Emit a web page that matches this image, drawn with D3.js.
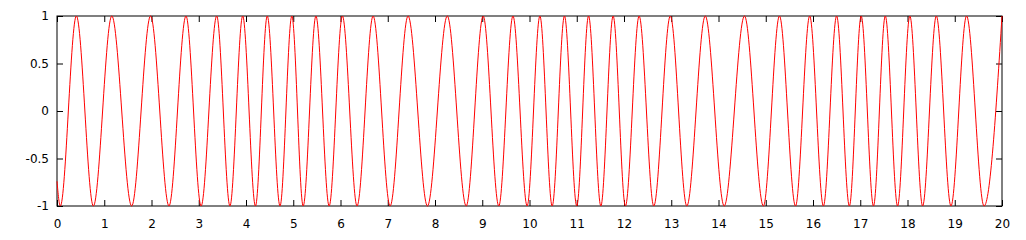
<!DOCTYPE html>
<html>
<head>
<meta charset="utf-8">
<script src="https://cdn.jsdelivr.net/npm/d3@7"></script>
<style>
  html, body { margin: 0; padding: 0; background: #fff; }
  #chart text { font-family: "DejaVu Sans", sans-serif; font-size: 12px; fill: #000; }
</style>
</head>
<body>
<div id="chart"></div>
<script>
// curve key points: start, every trough/peak, end
const curveX = [0, 0.07, 0.41, 0.77, 1.16, 1.58, 1.98, 2.37, 2.73, 3.05, 3.38, 3.66, 3.93, 4.20, 4.45,
	4.72, 4.97, 5.21, 5.48, 5.76, 6.04, 6.35, 6.69, 7.05, 7.43, 7.84, 8.26, 8.66, 9.02, 9.35,
	9.65, 9.95, 10.22, 10.48, 10.74, 11.00, 11.25, 11.51, 11.77, 12.03, 12.32, 12.63, 12.98, 13.33,
	13.72, 14.12, 14.55, 14.95, 15.29, 15.63, 15.93, 16.22, 16.50, 16.77, 17.02, 17.28, 17.53,
	17.79, 18.05, 18.32, 18.61, 18.92, 19.25, 19.62, 20]
const curveY = [-0.74, -1, 1, -1, 1, -1, 1, -1, 1, -1, 1, -1, 1, -1, 1,
	-1, 1, -1, 1, -1, 1, -1, 1, -1, 1, -1, 1, -1, 1, -1,
	1, -1, 1, -1, 1, -1, 1, -1, 1, -1, 1, -1, 1, -1,
	1, -1, 1, -1, 1, -1, 1, -1, 1, -1, 1, -1, 1,
	-1, 1, -1, 1, -1, 1, -1, 1]

const xTicks = [0, 1, 2, 3, 4, 5, 6, 7, 8, 9, 10, 11, 12, 13, 14, 15, 16, 17, 18, 19, 20]
const yTicks = [-1, -0.5, 0, 0.5, 1]
const yTickLabels = ['-1', '-0.5', '0', '0.5', '1']

const width = 1026
const height = 240
const margin = { left: 57, right: 24, top: 16, bottom: 34 }

const svg = d3.select('#chart')
	.append('svg')
	.attr('width', width)
	.attr('height', height)

const x = d3.scaleLinear()
	.domain([0, 20])
	.range([margin.left, width - margin.right])

const y = d3.scaleLinear()
	.domain([-1, 1])
	.range([height - margin.bottom, margin.top])

const tick = 6

// bottom axis with labels, ticks pointing inward
const gx = svg.append('g')
	.attr('transform', `translate(0, ${y(-1)})`)
	.call(d3.axisBottom(x).tickValues(xTicks).tickSizeInner(-tick).tickSizeOuter(0).tickPadding(13))
gx.select('.domain').remove()

// mirrored top ticks
const gxt = svg.append('g')
	.attr('transform', `translate(0, ${y(1)})`)
	.call(d3.axisTop(x).tickValues(xTicks).tickSizeInner(-tick).tickSizeOuter(0).tickFormat(''))
gxt.select('.domain').remove()

const gy = svg.append('g')
	.attr('transform', `translate(${x(0)}, 0)`)
	.call(d3.axisLeft(y).tickValues(yTicks).tickSizeInner(-tick).tickSizeOuter(0).tickPadding(8)
		.tickFormat((d, i) => yTickLabels[i]))
gy.select('.domain').remove()

const gyr = svg.append('g')
	.attr('transform', `translate(${x(20)}, 0)`)
	.call(d3.axisRight(y).tickValues(yTicks).tickSizeInner(-tick).tickSizeOuter(0).tickFormat(''))
gyr.select('.domain').remove()

svg.selectAll('.tick line').attr('stroke', '#000')

// plot frame
svg.append('rect')
	.attr('x', x(0))
	.attr('y', y(1))
	.attr('width', x(20) - x(0))
	.attr('height', y(-1) - y(1))
	.attr('fill', 'none')
	.attr('stroke', '#000')
	.attr('stroke-width', 1)

const pts = curveX.map((d, i) => [d, curveY[i]])

const line = d3.line()
	.x(d => x(d[0]))
	.y(d => y(d[1]))
	.curve(d3.curveMonotoneX)

svg.append('path')
	.datum(pts)
	.attr('d', line)
	.attr('fill', 'none')
	.attr('stroke', '#ff0000')
	.attr('stroke-width', 1)
</script>
</body>
</html>
